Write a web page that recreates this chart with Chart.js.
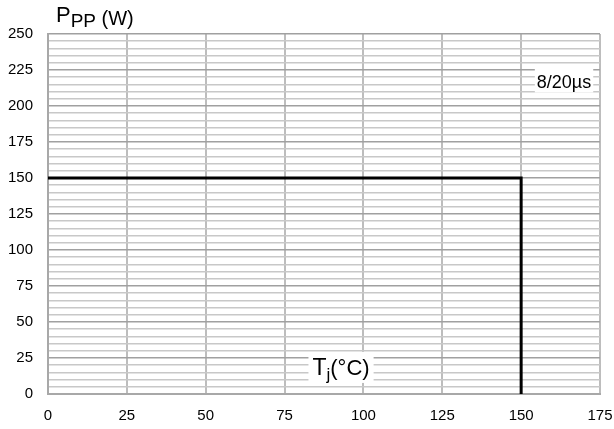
<!DOCTYPE html>
<html lang="en">
<head>
    <meta charset="UTF-8">
    <title>Peak pulse power vs junction temperature</title>
    <script src="https://cdn.jsdelivr.net/npm/chart.js"></script>
    <style>
        html, body { margin: 0; padding: 0; background: #ffffff; }
        #wrap { position: relative; width: 614px; height: 429px; }
    </style>
</head>
<body>
    <div id="wrap"><canvas id="deratingChart"></canvas></div>

    <script>
        // Derating curve: Tj (°C) against Ppp (W)
        var tempC = [0, 150, 150];
        var powerW = [150, 150, 0];

        // Axis ranges and tick steps
        var xTicks = [0, 25, 50, 75, 100, 125, 150, 175];
        var yTicks = [0, 25, 50, 75, 100, 125, 150, 175, 200, 225, 250];
        var yMinorStep = 5;

        var FONT = 'Liberation Sans, Arial, sans-serif';

        var points = tempC.map(function (t, i) { return { x: t, y: powerW[i] }; });

        // Titles and boxed labels drawn on top of the plot
        var labelsPlugin = {
            id: 'labels',
            afterDraw: function (chart) {
                var c = chart.ctx;
                var xs = chart.scales.x, ys = chart.scales.y;
                c.save();
                c.fillStyle = '#000';
                c.textBaseline = 'alphabetic';
                c.textAlign = 'left';

                // P_PP (W)
                c.font = '22px ' + FONT;
                c.fillText('P', 56, 22);
                var pw = c.measureText('P').width;
                c.font = '19px ' + FONT;
                c.fillText('PP', 56 + pw, 27);
                var ppw = c.measureText('PP').width;
                c.font = '20px ' + FONT;
                c.fillText(' (W)', 56 + pw + ppw, 25);

                // 8/20µs
                c.font = '18px ' + FONT;
                var txt = '8/20µs';
                var w = c.measureText(txt).width;
                var bx = xs.getPixelForValue(163.6) - w / 2;
                var by = ys.getPixelForValue(217.7);
                c.fillStyle = '#fff';
                c.fillRect(bx - 2, by - 12, w + 4, 24);
                c.fillStyle = '#000';
                c.fillText(txt, bx, by + 7);

                // Tj(°C)
                var tx = xs.getPixelForValue(92.9);
                var ty = ys.getPixelForValue(18.8);
                c.font = '23px ' + FONT;
                var tw = c.measureText('T').width;
                c.font = '17px ' + FONT;
                var jw = c.measureText('j').width;
                c.font = '22px ' + FONT;
                var rw = c.measureText('(°C)').width;
                var total = tw + jw + rw;
                var left = tx - total / 2;
                c.fillStyle = '#fff';
                c.fillRect(left - 4, ty - 15, total + 8, 31);
                c.fillStyle = '#000';
                c.font = '23px ' + FONT;
                c.fillText('T', left, ty + 8);
                c.font = '17px ' + FONT;
                c.fillText('j', left + tw, ty + 13);
                c.font = '22px ' + FONT;
                c.fillText('(°C)', left + tw + jw, ty + 8);
                c.restore();
            }
        };

        var ctx = document.getElementById('deratingChart').getContext('2d');
        var deratingChart = new Chart(ctx, {
            type: 'line',
            data: {
                datasets: [{
                    data: points,
                    borderColor: '#000000',
                    borderWidth: 3,
                    pointRadius: 0,
                    tension: 0,
                    fill: false
                }]
            },
            options: {
                responsive: true,
                maintainAspectRatio: false,
                animation: false,
                layout: { padding: { left: 0, top: 34, right: 14, bottom: 0 } },
                plugins: { legend: { display: false }, tooltip: { enabled: false } },
                scales: {
                    x: {
                        type: 'linear',
                        min: xTicks[0],
                        max: xTicks[xTicks.length - 1],
                        afterFit: function (s) {
                            s.height = 35;
                            s.paddingLeft = 0;
                            s.paddingRight = 0;
                        },
                        afterBuildTicks: function (s) {
                            s.ticks = xTicks.map(function (v) { return { value: v }; });
                        },
                        grid: { color: '#bdbdbd', lineWidth: 2, drawTicks: false },
                        border: { color: '#a8a8a8', width: 2 },
                        ticks: { color: '#000', font: { family: FONT, size: 15 }, padding: 13, maxRotation: 0 }
                    },
                    y: {
                        min: yTicks[0],
                        max: yTicks[yTicks.length - 1],
                        afterFit: function (s) { s.width = 48; },
                        afterBuildTicks: function (s) {
                            var t = [];
                            for (var v = yTicks[0]; v <= yTicks[yTicks.length - 1]; v += yMinorStep) t.push({ value: v });
                            s.ticks = t;
                        },
                        grid: {
                            drawTicks: false,
                            color: function (c) { return yTicks.indexOf(c.tick.value) >= 0 ? '#a0a0a0' : '#c8c8c8'; },
                            lineWidth: 1.5
                        },
                        border: { color: '#a8a8a8', width: 2 },
                        ticks: {
                            autoSkip: false,
                            color: '#000',
                            font: { family: FONT, size: 15 },
                            padding: 15,
                            callback: function (v) { return yTicks.indexOf(v) >= 0 ? v : ''; }
                        }
                    }
                }
            },
            plugins: [labelsPlugin]
        });
    </script>
</body>
</html>
